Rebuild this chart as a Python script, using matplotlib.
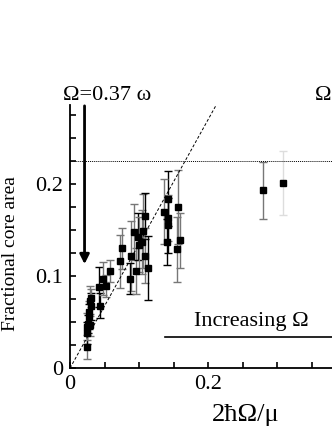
import matplotlib
matplotlib.use('Agg')
import matplotlib.pyplot as plt
import numpy as np

plt.rcParams['font.family'] = ['Liberation Serif', 'DejaVu Serif']

# data: 2*hbar*Omega/mu vs fractional core area
x_vals = [0.025, 0.024, 0.025, 0.026, 0.029, 0.028, 0.027, 0.030, 0.031, 0.029,
          0.043, 0.042, 0.048, 0.052, 0.058, 0.072, 0.076, 0.088, 0.087, 0.096,
          0.093, 0.098, 0.100, 0.104, 0.105, 0.109, 0.108, 0.113,
          0.142, 0.142, 0.142, 0.136, 0.141, 0.157, 0.155, 0.160,
          0.280, 0.308]
y_vals = [0.023, 0.038, 0.045, 0.048, 0.047, 0.056, 0.061, 0.067, 0.076, 0.073,
          0.068, 0.088, 0.097, 0.089, 0.106, 0.116, 0.130, 0.122, 0.097, 0.105,
          0.148, 0.143, 0.134, 0.137, 0.149, 0.165, 0.122, 0.109,
          0.184, 0.163, 0.155, 0.170, 0.137, 0.175, 0.129, 0.139,
          0.193, 0.201]
y_err = [0.013, 0.012, 0.015, 0.010, 0.012, 0.014, 0.012, 0.015, 0.010, 0.016,
         0.014, 0.022, 0.018, 0.012, 0.012, 0.029, 0.022, 0.038, 0.017, 0.025,
         0.030, 0.025, 0.030, 0.035, 0.040, 0.025, 0.030, 0.035,
         0.030, 0.025, 0.030, 0.035, 0.025, 0.040, 0.035, 0.030,
         0.031, 0.035]
bar_colors = ['#777777', 'k', '#777777', 'k', '#777777', 'k', '#777777', 'k', '#777777', '#777777',
              'k', 'k', '#777777', '#777777', '#777777', '#777777', '#777777', '#777777', 'k', '#777777',
              '#777777', 'k', '#777777', '#777777', '#777777', 'k', '#777777', 'k',
              'k', '#777777', 'k', '#777777', 'k', '#777777', '#777777', '#777777',
              '#777777', '#dddddd']

slope = 1.35
plateau = 0.225

fig = plt.figure(figsize=(3.32, 4.30), dpi=100)
ax = fig.add_axes([0.211, 0.144, 0.873, 0.612])

for xv, yv, ev, c in zip(x_vals, y_vals, y_err, bar_colors):
    ax.errorbar(xv, yv, yerr=ev, fmt='none', ecolor=c, elinewidth=1.0,
                capsize=3, capthick=1.0)
ax.plot(x_vals, y_vals, 's', color='k', markersize=4.5, zorder=3)

x_line = np.array([0, 0.3])
ax.plot(x_line, slope * x_line, color='k', lw=0.7, ls=(0, (3, 2)))
ax.axhline(plateau, color='k', lw=0.7, ls=(0, (1, 1)))

ax.annotate('', xy=(0.021, 0.110), xytext=(0.021, 0.288),
            arrowprops=dict(arrowstyle='-|>', lw=2, color='k', mutation_scale=14),
            annotation_clip=False)

ax.plot([0.138, 0.45], [0.034, 0.034], color='k', lw=1.2, clip_on=False)
ax.text(0.262, 0.040, 'Increasing Ω', fontsize=16, ha='center', va='bottom')

ax.set_xlim(0, 0.42)
ax.set_ylim(0, 0.286)
ax.set_xticks([0, 0.2, 0.4])
ax.set_xticklabels(['0', '0.2', '0.4'])
ax.set_xticks(np.arange(0, 0.42, 0.05), minor=True)
ax.set_yticks([0, 0.1, 0.2])
ax.set_yticklabels(['0', '0.1', '0.2'])
ax.set_yticks(np.arange(0, 0.286, 0.025), minor=True)
ax.tick_params(which='both', direction='in', labelsize=16, width=1.2)
ax.tick_params(which='major', length=4, pad=5)
ax.tick_params(which='minor', length=4)

ax.spines['top'].set_visible(False)
ax.spines['right'].set_visible(False)
ax.spines['left'].set_linewidth(1.3)
ax.spines['bottom'].set_linewidth(1.3)

fig.text(0.033, 0.41, 'Fractional core area', fontsize=14, rotation=90,
         ha='center', va='center')
fig.text(0.741, 0.035, '2ħΩ/μ', fontsize=19, ha='center', va='center')

fig.text(0.19, 0.779, 'Ω=0.37 ω', fontsize=16, ha='left', va='center')
fig.text(0.949, 0.779, 'Ω', fontsize=16, ha='left', va='center')

fig.savefig('out.png', dpi=100)
